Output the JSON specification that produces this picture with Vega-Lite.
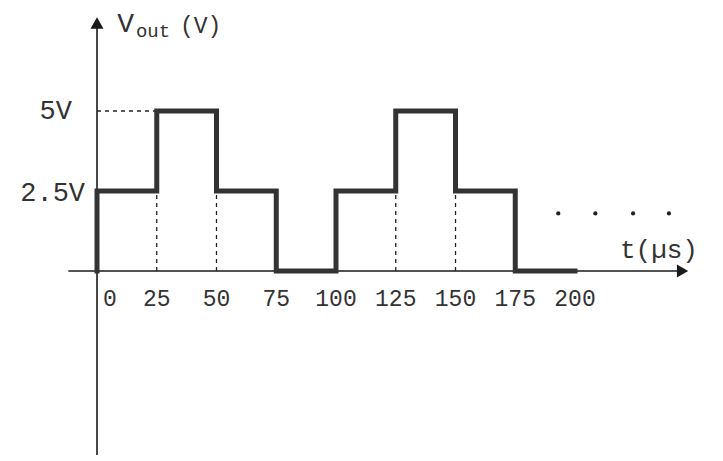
{
  "$schema": "https://vega.github.io/schema/vega-lite/v6.json",
  "width": 723,
  "height": 461,
  "padding": 0,
  "autosize": {"type": "fit", "contains": "padding"},
  "background": "white",
  "config": {"view": {"stroke": null}},
  "datasets": {
    "wave": [
      {"i": 1, "t": 0, "v": 0},
      {"i": 2, "t": 0, "v": 2.5},
      {"i": 3, "t": 25, "v": 2.5},
      {"i": 4, "t": 25, "v": 5},
      {"i": 5, "t": 50, "v": 5},
      {"i": 6, "t": 50, "v": 2.5},
      {"i": 7, "t": 75, "v": 2.5},
      {"i": 8, "t": 75, "v": 0},
      {"i": 9, "t": 100, "v": 0},
      {"i": 10, "t": 100, "v": 2.5},
      {"i": 11, "t": 125, "v": 2.5},
      {"i": 12, "t": 125, "v": 5},
      {"i": 13, "t": 150, "v": 5},
      {"i": 14, "t": 150, "v": 2.5},
      {"i": 15, "t": 175, "v": 2.5},
      {"i": 16, "t": 175, "v": 0},
      {"i": 17, "t": 200, "v": 0}
    ],
    "vguides": [
      {"t": 25, "v0": 0, "v1": 2.5},
      {"t": 50, "v0": 0, "v1": 2.5},
      {"t": 125, "v0": 0, "v1": 2.5},
      {"t": 150, "v0": 0, "v1": 2.5}
    ],
    "ticks": [
      {"t": 25, "label": "25"},
      {"t": 50, "label": "50"},
      {"t": 75, "label": "75"},
      {"t": 100, "label": "100"},
      {"t": 125, "label": "125"},
      {"t": 150, "label": "150"},
      {"t": 175, "label": "175"},
      {"t": 200, "label": "200"}
    ],
    "dots": [
      {"t": 193, "v": 1.8},
      {"t": 208.5, "v": 1.8},
      {"t": 224.3, "v": 1.8},
      {"t": 239.3, "v": 1.8}
    ],
    "one": [{}]
  },
  "layer": [
    {
      "data": {"name": "one"},
      "mark": {"type": "rule", "color": "#1a1a1a", "strokeWidth": 1.6},
      "encoding": {
        "x": {"datum": -12, "type": "quantitative", "scale": {"domain": [-40.59, 261.92], "nice": false, "zero": false}, "axis": null},
        "x2": {"datum": 243},
        "y": {"datum": 0, "type": "quantitative", "scale": {"domain": [-5.938, 8.469], "nice": false, "zero": false}, "axis": null}
      }
    },
    {
      "data": {"name": "one"},
      "mark": {"type": "rule", "color": "#1a1a1a", "strokeWidth": 1.6},
      "encoding": {
        "x": {"datum": 0, "type": "quantitative", "scale": {"domain": [-40.59, 261.92], "nice": false, "zero": false}, "axis": null},
        "y": {"datum": -5.75, "type": "quantitative", "scale": {"domain": [-5.938, 8.469], "nice": false, "zero": false}, "axis": null},
        "y2": {"datum": 7.6}
      }
    },
    {
      "data": {"name": "one"},
      "mark": {"type": "point", "shape": "triangle-right", "filled": true, "color": "#1a1a1a", "size": 170, "opacity": 1},
      "encoding": {
        "x": {"datum": 245, "type": "quantitative", "scale": {"domain": [-40.59, 261.92], "nice": false, "zero": false}, "axis": null},
        "y": {"datum": 0, "type": "quantitative", "scale": {"domain": [-5.938, 8.469], "nice": false, "zero": false}, "axis": null}
      }
    },
    {
      "data": {"name": "one"},
      "mark": {"type": "point", "shape": "triangle-up", "filled": true, "color": "#1a1a1a", "size": 170, "opacity": 1},
      "encoding": {
        "x": {"datum": 0, "type": "quantitative", "scale": {"domain": [-40.59, 261.92], "nice": false, "zero": false}, "axis": null},
        "y": {"datum": 7.75, "type": "quantitative", "scale": {"domain": [-5.938, 8.469], "nice": false, "zero": false}, "axis": null}
      }
    },
    {
      "data": {"name": "vguides"},
      "mark": {"type": "rule", "color": "#222", "strokeWidth": 1.3, "strokeDash": [4, 4]},
      "encoding": {
        "x": {"field": "t", "type": "quantitative", "scale": {"domain": [-40.59, 261.92], "nice": false, "zero": false}, "axis": null},
        "y": {"field": "v0", "type": "quantitative", "scale": {"domain": [-5.938, 8.469], "nice": false, "zero": false}, "axis": null},
        "y2": {"field": "v1"}
      }
    },
    {
      "data": {"name": "one"},
      "mark": {"type": "rule", "color": "#222", "strokeWidth": 1.3, "strokeDash": [4, 4]},
      "encoding": {
        "x": {"datum": 0, "type": "quantitative", "scale": {"domain": [-40.59, 261.92], "nice": false, "zero": false}, "axis": null},
        "x2": {"datum": 25},
        "y": {"datum": 5, "type": "quantitative", "scale": {"domain": [-5.938, 8.469], "nice": false, "zero": false}, "axis": null}
      }
    },
    {
      "data": {"name": "wave"},
      "mark": {"type": "line", "color": "#333333", "strokeWidth": 5, "strokeJoin": "miter", "strokeCap": "square"},
      "encoding": {
        "x": {"field": "t", "type": "quantitative", "scale": {"domain": [-40.59, 261.92], "nice": false, "zero": false}, "axis": null},
        "y": {"field": "v", "type": "quantitative", "scale": {"domain": [-5.938, 8.469], "nice": false, "zero": false}, "axis": null},
        "order": {"field": "i", "type": "quantitative"}
      }
    },
    {
      "data": {"name": "dots"},
      "mark": {"type": "circle", "color": "#222", "size": 18, "opacity": 1},
      "encoding": {
        "x": {"field": "t", "type": "quantitative", "scale": {"domain": [-40.59, 261.92], "nice": false, "zero": false}, "axis": null},
        "y": {"field": "v", "type": "quantitative", "scale": {"domain": [-5.938, 8.469], "nice": false, "zero": false}, "axis": null}
      }
    },
    {
      "data": {"name": "ticks"},
      "mark": {"type": "text", "font": "Liberation Mono", "fontSize": 23, "color": "#333", "align": "center", "baseline": "middle"},
      "encoding": {
        "x": {"field": "t", "type": "quantitative", "scale": {"domain": [-40.59, 261.92], "nice": false, "zero": false}, "axis": null},
        "y": {"datum": -0.87, "type": "quantitative", "scale": {"domain": [-5.938, 8.469], "nice": false, "zero": false}, "axis": null},
        "text": {"field": "label"}
      }
    },
    {
      "data": {"name": "one"},
      "mark": {"type": "text", "font": "Liberation Mono", "fontSize": 23, "color": "#333", "align": "left", "baseline": "middle", "dx": 6, "text": "0"},
      "encoding": {
        "x": {"datum": 0, "type": "quantitative", "scale": {"domain": [-40.59, 261.92], "nice": false, "zero": false}, "axis": null},
        "y": {"datum": -0.87, "type": "quantitative", "scale": {"domain": [-5.938, 8.469], "nice": false, "zero": false}, "axis": null}
      }
    },
    {
      "data": {"name": "one"},
      "mark": {"type": "text", "font": "Liberation Mono", "fontSize": 27, "color": "#333", "align": "right", "baseline": "middle", "text": "5V"},
      "encoding": {
        "x": {"datum": -10.5, "type": "quantitative", "scale": {"domain": [-40.59, 261.92], "nice": false, "zero": false}, "axis": null},
        "y": {"datum": 5, "type": "quantitative", "scale": {"domain": [-5.938, 8.469], "nice": false, "zero": false}, "axis": null}
      }
    },
    {
      "data": {"name": "one"},
      "mark": {"type": "text", "font": "Liberation Mono", "fontSize": 27, "color": "#333", "align": "right", "baseline": "middle", "text": "2.5V"},
      "encoding": {
        "x": {"datum": -5, "type": "quantitative", "scale": {"domain": [-40.59, 261.92], "nice": false, "zero": false}, "axis": null},
        "y": {"datum": 2.45, "type": "quantitative", "scale": {"domain": [-5.938, 8.469], "nice": false, "zero": false}, "axis": null}
      }
    },
    {
      "data": {"name": "one"},
      "mark": {"type": "text", "font": "Liberation Mono", "fontSize": 28, "color": "#333", "align": "left", "baseline": "middle", "text": "V"},
      "encoding": {
        "x": {"datum": 8.5, "type": "quantitative", "scale": {"domain": [-40.59, 261.92], "nice": false, "zero": false}, "axis": null},
        "y": {"datum": 7.72, "type": "quantitative", "scale": {"domain": [-5.938, 8.469], "nice": false, "zero": false}, "axis": null}
      }
    },
    {
      "data": {"name": "one"},
      "mark": {"type": "text", "font": "Liberation Mono", "fontSize": 19, "color": "#333", "align": "left", "baseline": "middle", "text": "out"},
      "encoding": {
        "x": {"datum": 16.3, "type": "quantitative", "scale": {"domain": [-40.59, 261.92], "nice": false, "zero": false}, "axis": null},
        "y": {"datum": 7.5, "type": "quantitative", "scale": {"domain": [-5.938, 8.469], "nice": false, "zero": false}, "axis": null}
      }
    },
    {
      "data": {"name": "one"},
      "mark": {"type": "text", "font": "Liberation Mono", "fontSize": 23, "color": "#333", "align": "left", "baseline": "middle", "text": "(V)"},
      "encoding": {
        "x": {"datum": 34.7, "type": "quantitative", "scale": {"domain": [-40.59, 261.92], "nice": false, "zero": false}, "axis": null},
        "y": {"datum": 7.66, "type": "quantitative", "scale": {"domain": [-5.938, 8.469], "nice": false, "zero": false}, "axis": null}
      }
    },
    {
      "data": {"name": "one"},
      "mark": {"type": "text", "font": "Liberation Mono", "fontSize": 26, "color": "#333", "align": "left", "baseline": "middle", "text": "t(µs)"},
      "encoding": {
        "x": {"datum": 218.8, "type": "quantitative", "scale": {"domain": [-40.59, 261.92], "nice": false, "zero": false}, "axis": null},
        "y": {"datum": 0.66, "type": "quantitative", "scale": {"domain": [-5.938, 8.469], "nice": false, "zero": false}, "axis": null}
      }
    }
  ]
}
